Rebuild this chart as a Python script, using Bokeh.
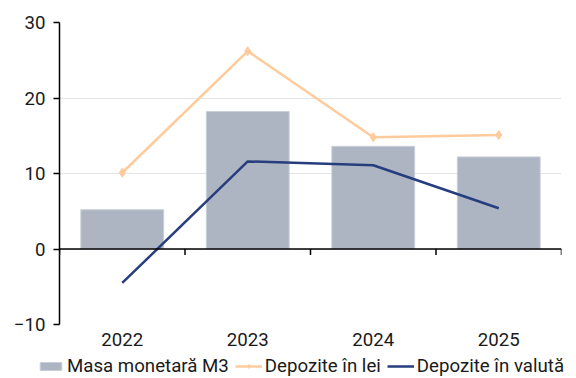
from bokeh.plotting import figure
from bokeh.layouts import column
from bokeh.models import FixedTicker, Span, Legend, LegendItem
from bokeh.embed import file_html
from bokeh.resources import INLINE

years = ["2022", "2023", "2024", "2025"]
masa_m3 = [5.2, 18.2, 13.6, 12.2]
depozite_lei = [10.1, 26.2, 14.8, 15.1]
depozite_valuta = [-4.5, 11.6, 11.1, 5.4]
y_ticks = [-10, 0, 10, 20, 30]

xs = list(range(1, len(years) + 1))
FONT = "Roboto"
C_BAR, C_BAR_EDGE = "#ADB5C2", "#C9CFD8"
C_LEI, C_VAL = "#FFCB9C", "#263D7E"

p = figure(width=576, height=354, output_backend="svg", toolbar_location=None,
           x_range=(0.5, len(years) + 0.5), y_range=(-10, 30),
           min_border_left=59, min_border_right=15, min_border_top=22, min_border_bottom=30)
p.outline_line_color = None
p.frame_align = False

# grid
p.xgrid.visible = False
p.ygrid.ticker = FixedTicker(ticks=y_ticks)
p.ygrid.grid_line_color = "#C8C8C8"
p.ygrid.grid_line_dash = "1 1"
p.ygrid.grid_line_width = 1

# y axis
p.yaxis.ticker = FixedTicker(ticks=y_ticks)
p.yaxis.axis_line_color = "black"
p.yaxis.axis_line_width = 1.5
p.yaxis.major_tick_line_color = "black"
p.yaxis.major_tick_line_width = 1.5
p.yaxis.major_tick_out = 6
p.yaxis.major_tick_in = 0
p.yaxis.minor_tick_line_color = None
p.yaxis.major_label_text_font = FONT
p.yaxis.major_label_text_font_size = "14pt"
p.yaxis.major_label_text_color = "#1a1a1a"
p.yaxis.major_label_standoff = 8

# x axis (labels only, at the bottom)
p.xaxis.ticker = FixedTicker(ticks=xs)
p.xaxis.major_label_overrides = {x: y for x, y in zip(xs, years)}
p.xaxis.axis_line_color = None
p.xaxis.major_tick_line_color = None
p.xaxis.major_tick_out = 0
p.xaxis.major_tick_in = 0
p.xaxis.minor_tick_line_color = None
p.xaxis.major_label_text_font = FONT
p.xaxis.major_label_text_font_size = "14pt"
p.xaxis.major_label_text_color = "#1a1a1a"
p.xaxis.major_label_standoff = 8

p.vbar(x=xs, top=masa_m3, bottom=0, width=0.66,
       fill_color=C_BAR, line_color=C_BAR_EDGE, line_width=1)

# zero line with boundary ticks
p.add_layout(Span(location=0, dimension="width", line_color="black", line_width=1.5))
bounds = [x - 0.5 for x in xs] + [xs[-1] + 0.5]
p.segment(x0=bounds, y0=[0] * len(bounds), x1=bounds, y1=[-0.8] * len(bounds),
          line_color="black", line_width=1.5)

p.line(xs, depozite_lei, line_color=C_LEI, line_width=2.5)
p.scatter(xs, depozite_lei, marker="diamond", size=9, fill_color=C_LEI, line_color=C_LEI)
p.line(xs, depozite_valuta, line_color=C_VAL, line_width=2.5)

# legend strip under the chart; its renderers carry the same series but lie
# outside the strip's (empty) view, so only the legend swatches show
lg = figure(width=576, height=24, output_backend="svg", toolbar_location=None,
            x_range=(0.5, len(years) + 0.5), y_range=(1000, 1001),
            x_axis_location=None, y_axis_location=None,
            min_border_left=0, min_border_right=0, min_border_top=0, min_border_bottom=0)
lg.outline_line_color = None
lg.frame_align = False
lg.xgrid.visible = False
lg.ygrid.visible = False
r_bar = lg.vbar(x=xs, top=masa_m3, bottom=0, width=0.66, fill_color=C_BAR, line_color=C_BAR_EDGE)
r_lei = lg.line(xs, depozite_lei, line_color=C_LEI, line_width=2.5)
r_lei_pt = lg.scatter(xs, depozite_lei, marker="diamond", size=9, fill_color=C_LEI, line_color=C_LEI)
r_val = lg.line(xs, depozite_valuta, line_color=C_VAL, line_width=2.5)

legend = Legend(items=[
    LegendItem(label="Masa monetară M3", renderers=[r_bar]),
    LegendItem(label="Depozite în lei", renderers=[r_lei, r_lei_pt]),
    LegendItem(label="Depozite în valută", renderers=[r_val]),
], orientation="horizontal", location=(37, 1))
legend.label_text_font = FONT
legend.label_text_font_size = "14pt"
legend.label_text_color = "#1a1a1a"
legend.glyph_width = 27
legend.glyph_height = 10
legend.label_standoff = 3
legend.spacing = 6
legend.padding = 0
legend.margin = 0
legend.border_line_color = None
legend.background_fill_alpha = 0
legend.label_height = 18
lg.add_layout(legend)

layout = column(p, lg, spacing=0)
open("out.html", "w").write(file_html(layout, INLINE))
